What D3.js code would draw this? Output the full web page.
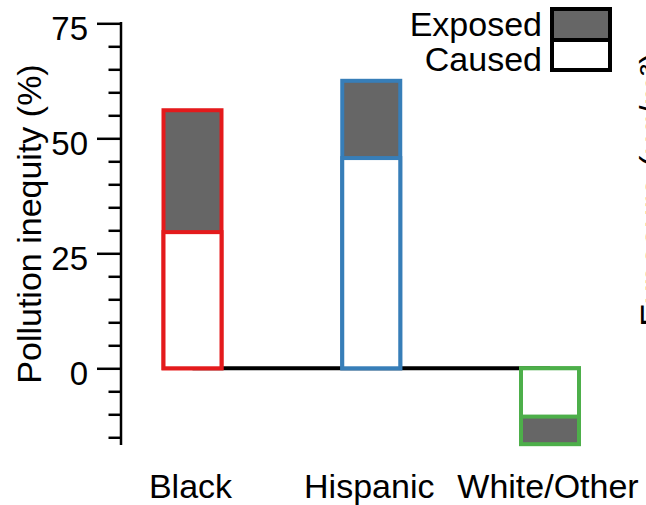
<!DOCTYPE html>
<html>
<head>
<meta charset="utf-8">
<script src="https://cdn.jsdelivr.net/npm/d3@7"></script>
<style>
  html, body { margin: 0; padding: 0; background: #fff; }
  svg { display: block; }
  text { font-family: "Liberation Sans", Arial, Helvetica, sans-serif; fill: #000; }
</style>
</head>
<body>
<svg id="chart" width="646" height="505"></svg>
<script>
// ---- data ----
const categories = ["Black", "Hispanic", "White/Other"];
const exposedValues = [56.1, 62.5, -16.5];
const causedValues = [29.6, 45.7, -10.5];
const barColors = ["#e41a1c", "#377eb8", "#4daf4a"];
const majorTicks = [0, 25, 50, 75];
const minorTicks = [-15, -10, -5, 5, 10, 15, 20, 30, 35, 40, 45, 55, 60, 65, 70];
const legendLabels = ["Exposed", "Caused"];
const yAxisTitle = "Pollution inequity (%)";
const neighbourTitle = "Exposure (\u03bcg/m\u00b3)";

const svg = d3.select("#chart");
const gray = "#666666";

const y = d3.scaleLinear().domain([-16.7, 75]).range([445.1, 23.3]);
const x = d3.scalePoint().domain(categories).range([192.5, 550]);
const barW = 58;
const axisX = 121;

// zero line (behind bars)
svg.append("line")
  .attr("x1", x(categories[0])).attr("x2", x(categories[categories.length - 1]))
  .attr("y1", y(0)).attr("y2", y(0))
  .attr("stroke", "#000").attr("stroke-width", 4);

// bars
const bars = svg.append("g").selectAll("g").data(categories).join("g");
bars.append("rect")
  .attr("x", d => x(d) - barW / 2)
  .attr("width", barW)
  .attr("y", (d, i) => Math.min(y(0), y(exposedValues[i])))
  .attr("height", (d, i) => Math.abs(y(exposedValues[i]) - y(0)))
  .attr("fill", gray)
  .attr("stroke", (d, i) => barColors[i]).attr("stroke-width", 4);
bars.append("rect")
  .attr("x", d => x(d) - barW / 2)
  .attr("width", barW)
  .attr("y", (d, i) => Math.min(y(0), y(causedValues[i])))
  .attr("height", (d, i) => Math.abs(y(causedValues[i]) - y(0)))
  .attr("fill", "#fff")
  .attr("stroke", (d, i) => barColors[i]).attr("stroke-width", 4);

// y axis minor ticks
const minorAxis = svg.append("g").attr("transform", `translate(${axisX},0)`)
  .call(d3.axisLeft(y).tickValues(minorTicks).tickSize(12.5).tickSizeOuter(0).tickFormat(""));
minorAxis.select(".domain").remove();
minorAxis.selectAll(".tick line").attr("stroke", "#000").attr("stroke-width", 2.5);

// y axis major
const majorAxis = svg.append("g").attr("transform", `translate(${axisX},0)`)
  .call(d3.axisLeft(y).tickValues(majorTicks).tickSize(24).tickSizeOuter(0).tickPadding(9));
majorAxis.select(".domain").attr("stroke", "#000").attr("stroke-width", 2.5)
  .attr("d", `M0,${y(75) - 1.2}V${y(-16.7)}`);
majorAxis.selectAll(".tick line").attr("stroke", "#000").attr("stroke-width", 2.5);
majorAxis.selectAll(".tick text")
  .attr("font-size", 33).attr("dy", "0.5em")
  .style("font-family", "'Liberation Sans', Arial, sans-serif").attr("fill", "#000");

// y axis title
svg.append("text")
  .attr("transform", "translate(41,224) rotate(-90)")
  .attr("text-anchor", "middle")
  .attr("font-size", 34)
  .text(yAxisTitle);

// category labels
svg.append("g").selectAll("text").data(categories).join("text")
  .attr("x", d => x(d) - 2)
  .attr("y", 498)
  .attr("text-anchor", "middle")
  .attr("font-size", 34)
  .text(d => d);

// legend
const lg = svg.append("g");
lg.append("rect").attr("x", 552).attr("y", 9).attr("width", 58).attr("height", 31)
  .attr("fill", gray).attr("stroke", "#000").attr("stroke-width", 4);
lg.append("rect").attr("x", 552).attr("y", 40).attr("width", 58).attr("height", 30)
  .attr("fill", "#fff").attr("stroke", "#000").attr("stroke-width", 4);
lg.selectAll("text").data(legendLabels).join("text")
  .attr("x", 542)
  .attr("y", (d, i) => 36 + i * 35)
  .attr("text-anchor", "end")
  .attr("font-size", 34)
  .text(d => d);

// cropped title of the neighbouring panel at the right edge (as in the reference)
svg.append("text")
  .attr("transform", "translate(664.5,327) rotate(-90)")
  .attr("font-size", 35.5)
  .text(neighbourTitle);
</script>
</body>
</html>
